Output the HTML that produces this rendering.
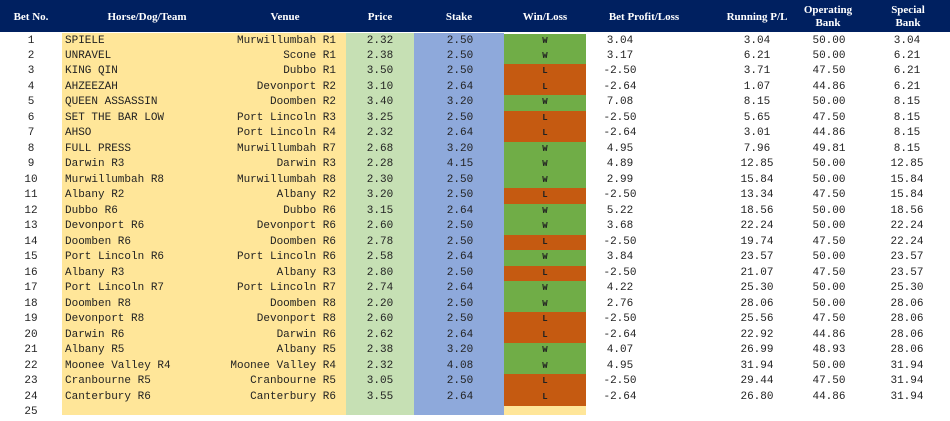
<!DOCTYPE html>
<html><head><meta charset="utf-8">
<style>
body{margin:0;width:950px;height:415px;overflow:hidden;background:#fff;font-family:"Liberation Mono",monospace;}
#wrap{position:relative;width:950px;height:415px;}
.hdr{position:absolute;left:0;top:0;width:950px;height:32px;background:#002060;}
.h{position:absolute;color:#fff;font-family:"Liberation Serif","Liberation Mono",serif;font-weight:bold;font-size:11px;text-align:center;line-height:13px;}
.c{position:absolute;font-size:11px;color:#222;height:15.5px;line-height:15.5px;white-space:pre;}
.bg{position:absolute;}
</style></head><body>
<div id="wrap">
<div class="hdr"></div>
<div class="h" style="left:0;width:62px;top:11px">Bet No.</div>
<div class="h" style="left:62px;width:170px;top:11px">Horse/Dog/Team</div>
<div class="h" style="left:230px;width:110px;top:11px">Venue</div>
<div class="h" style="left:346px;width:68px;top:11px">Price</div>
<div class="h" style="left:414px;width:90px;top:11px">Stake</div>
<div class="h" style="left:504px;width:82px;top:11px">Win/Loss</div>
<div class="h" style="left:586px;width:116px;top:11px">Bet Profit/Loss</div>
<div class="h" style="left:702px;width:110px;top:11px">Running P/L</div>
<div class="h" style="left:790px;width:76px;top:4px">Operating<br>Bank</div>
<div class="h" style="left:866px;width:84px;top:4px">Special<br>Bank</div>
<div class="bg" style="left:62px;top:33px;width:284px;height:382px;background:#FFE699"></div>
<div class="bg" style="left:346px;top:33px;width:68px;height:382px;background:#C6E0B4"></div>
<div class="bg" style="left:414px;top:33px;width:90px;height:382px;background:#8EA9DB"></div>
<div class="bg" style="left:504px;top:405px;width:82px;height:10px;background:#FFE699"></div>
</div>
<script>
const horses=["SPIELE","UNRAVEL","KING QIN","AHZEEZAH","QUEEN ASSASSIN","SET THE BAR LOW","AHSO","FULL PRESS","Darwin R3","Murwillumbah R8","Albany R2","Dubbo R6","Devonport R6","Doomben R6","Port Lincoln R6","Albany R3","Port Lincoln R7","Doomben R8","Devonport R8","Darwin R6","Albany R5","Moonee Valley R4","Cranbourne R5","Canterbury R6"];
const venues=["Murwillumbah R1","Scone R1","Dubbo R1","Devonport R2","Doomben R2","Port Lincoln R3","Port Lincoln R4","Murwillumbah R7","Darwin R3","Murwillumbah R8","Albany R2","Dubbo R6","Devonport R6","Doomben R6","Port Lincoln R6","Albany R3","Port Lincoln R7","Doomben R8","Devonport R8","Darwin R6","Albany R5","Moonee Valley R4","Cranbourne R5","Canterbury R6"];
const prices=[2.32,2.38,3.50,3.10,3.40,3.25,2.32,2.68,2.28,2.30,3.20,3.15,2.60,2.78,2.58,2.80,2.74,2.20,2.60,2.62,2.38,2.32,3.05,3.55];
const stakes=[2.50,2.50,2.50,2.64,3.20,2.50,2.64,3.20,4.15,2.50,2.50,2.64,2.50,2.50,2.64,2.50,2.64,2.50,2.50,2.64,3.20,4.08,2.50,2.64];
const results=["W","W","L","L","W","L","L","W","W","W","L","W","W","L","W","L","W","W","L","L","W","W","L","L"];
const profits=[3.04,3.17,-2.50,-2.64,7.08,-2.50,-2.64,4.95,4.89,2.99,-2.50,5.22,3.68,-2.50,3.84,-2.50,4.22,2.76,-2.50,-2.64,4.07,4.95,-2.50,-2.64];
const running=[3.04,6.21,3.71,1.07,8.15,5.65,3.01,7.96,12.85,15.84,13.34,18.56,22.24,19.74,23.57,21.07,25.30,28.06,25.56,22.92,26.99,31.94,29.44,26.80];
const operating=[50.00,50.00,47.50,44.86,50.00,47.50,44.86,49.81,50.00,50.00,47.50,50.00,50.00,47.50,50.00,47.50,50.00,50.00,47.50,44.86,48.93,50.00,47.50,44.86];
const special=[3.04,6.21,6.21,6.21,8.15,8.15,8.15,8.15,12.85,15.84,15.84,18.56,22.24,22.24,23.57,23.57,25.30,28.06,28.06,28.06,28.06,31.94,31.94,31.94];
const wrap=document.getElementById('wrap');
const ROW0=33.5,RH=15.48;
function rowY(i){return ROW0+i*RH;}
function cell(txt,x,w,align,y,name){
  const d=document.createElement('div');
  d.className='c';
  d.style.left=x+'px';d.style.width=w+'px';d.style.textAlign=align;d.style.top=y+'px';
  d.textContent=txt;
  
  
  wrap.appendChild(d);return d;
}
for(let i=0;i<25;i++){
  const y=rowY(i);
  cell(String(i+1),0,62,'center',y,'bet-number');
  if(i>=horses.length)continue;
  const wl=document.createElement('div');
  wl.className='bg';
  wl.style.left='504px';wl.style.top=y+'px';wl.style.width='82px';wl.style.height=(RH+0.5)+'px';
  wl.style.background=results[i]==='W'?'#70AD47':'#C55A11';
  
  
  wrap.appendChild(wl);
  cell(horses[i],65,200,'left',y,'horse-name');
  cell(venues[i],200,136,'right',y,'venue');
  cell(prices[i].toFixed(2),346,68,'center',y,'price');
  cell(stakes[i].toFixed(2),414,92,'center',y,'stake');
  const r=cell(results[i],504,82,'center',y,'win-loss');
  r.style.fontSize='9px';r.style.fontWeight='bold';
  cell(profits[i].toFixed(2),586,68,'center',y,'bet-profit');
  cell(running[i].toFixed(2),722,70,'center',y,'running-pl');
  cell(operating[i].toFixed(2),792,74,'center',y,'operating-bank');
  cell(special[i].toFixed(2),868,78,'center',y,'special-bank');
}
</script>
</body></html>
